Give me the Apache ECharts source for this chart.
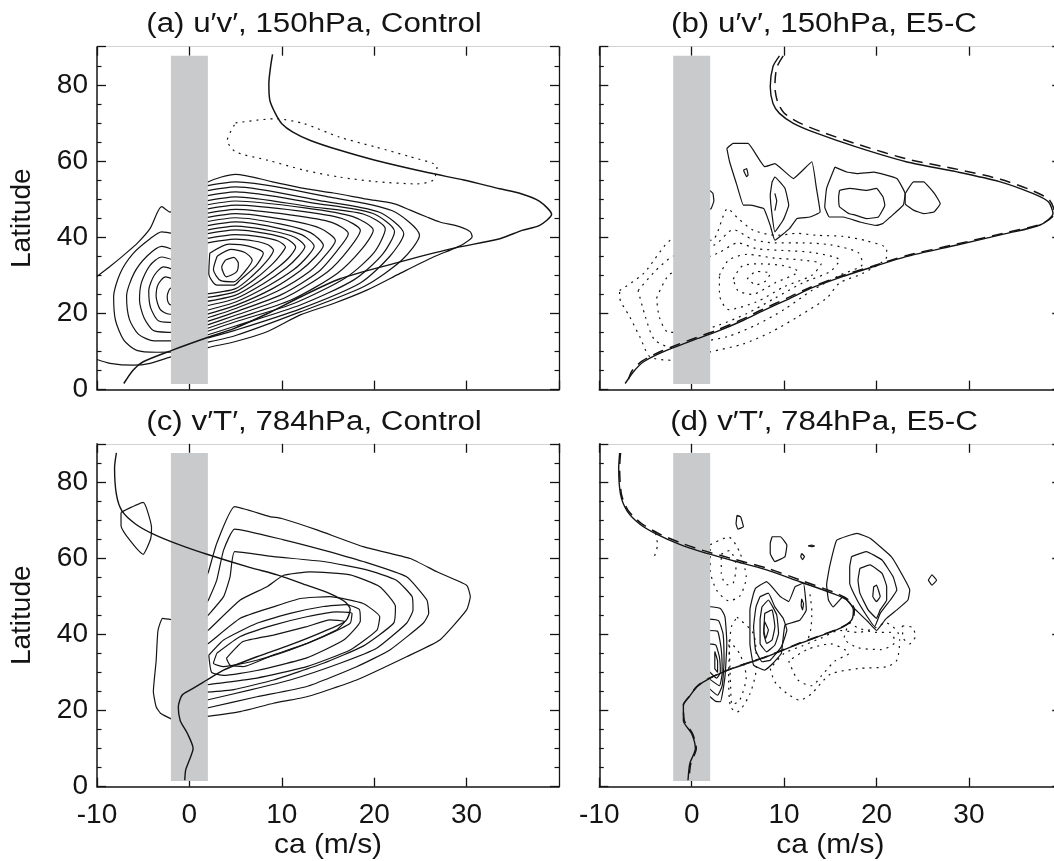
<!DOCTYPE html>
<html>
<head>
<meta charset="utf-8">
<script src="https://cdn.jsdelivr.net/npm/echarts@6/dist/echarts.min.js"></script>
<style>
  html, body { margin: 0; padding: 0; background: #fff; }
  #chart { width: 1054px; height: 861px; }
</style>
</head>
<body>
<div id="chart"></div>
<script>
// ---- shared ----
const xTicks = [-10, 0, 10, 20, 30];
const yTicks = [0, 20, 40, 60, 80];
const barBand = [-2, 1.5, 2, 87.6]; // grey band: ca from -2 to 2, lat 1.5..87.6

// ---- (a) u'v' 150hPa control ----
const jetA = [[9.0,88.0],[8.8,85.0],[8.6,80.4],[8.7,76.0],[9.3,72.5],[10.0,69.8],[11.2,67.6],[13.1,65.4],[16.3,62.8],[20.1,60.2],[25.9,56.9],[29.7,55.0],[33.6,52.7],[35.9,51.4],[37.9,49.4],[39.2,46.0],[37.9,43.1],[36.0,41.8],[33.6,39.6],[28.4,37.0],[22.0,33.0],[16.3,29.1],[12.0,24.3],[8.4,19.9],[4.8,16.0],[2.1,13.8],[-1.9,10.3],[-5.0,7.3],[-6.1,5.1],[-7.1,1.6]];
const negA = [[5.0,70.0],[9.3,71.1],[12.4,69.8],[16.2,66.3],[20.1,63.7],[23.9,61.1],[26.8,58.5],[26.4,55.0],[24.6,54.0],[20.1,54.6],[16.2,55.8],[12.4,57.6],[8.5,60.2],[5.0,62.4],[4.1,65.4]];
const outerA = [[-10,29.7],[-8.5,32.5],[-7.1,35.3],[-5.6,38.5],[-4.25,42.3],[-3.0,48.0],[-2.1,46.6],[0,50.5],[2.0,54.5],[5.0,56.5],[8.9,54.6],[12.4,52.8],[15.6,51.6],[19.2,50.0],[22.1,48.8],[23.9,47.1],[25.7,45.3],[27.1,44.0],[29.3,42.7],[30.4,41.4],[30.6,40.1],[29.7,38.3],[28.6,37.0],[26.4,34.8],[22.8,30.5],[19.2,26.1],[15.6,22.6],[12.0,19.6],[8.4,15.2],[4.8,12.5],[2.0,11.0],[0,9.5],[-2.0,8.6],[-4.25,6.9],[-6.1,6.4],[-8.6,6.9],[-10,7.9]];
const innerLoopsA = [
  [[3.9,34.0],[4.8,34.7],[5.3,33.1],[5.1,30.9],[4.0,29.6],[3.5,32.2]],
  [[3.0,35.0],[4.5,36.8],[6.0,36.0],[6.8,34.0],[6.0,31.0],[4.8,28.3],[3.4,28.6],[2.6,31.5]],
  [[2.2,35.8],[4.3,38.2],[6.5,37.6],[8.0,35.8],[7.2,32.5],[5.5,28.8],[4.8,27.4],[3.0,27.4],[2.1,30.5]]
];
const rightRingsA = [
  [[1.5,38.3],[5,39.5],[7.0,39.0],[8.5,38.0],[9.1,36.6],[8.3,33.5],[6.8,29.8],[5,26.5],[1.5,25.0]],
  [[1.5,39.5],[5,40.7],[7.7,40.1],[9.6,39.0],[10.4,37.4],[9.9,35.5],[9.0,33.0],[7.2,29.2],[5,25.7],[1.5,24.0]],
  [[1.5,40.7],[5,41.9],[8.2,41.0],[10.5,39.6],[11.5,37.4],[10.9,35.0],[9.8,32.5],[7.6,28.5],[5,24.8],[1.5,23.0]],
  [[1.5,41.7],[5,42.9],[8.8,41.7],[11.4,40.0],[12.5,37.5],[11.8,35.0],[10.5,32.0],[8.0,27.8],[5,23.9],[1.5,21.8]],
  [[1.5,42.8],[5,44.0],[9.2,42.6],[12.2,40.6],[13.5,37.6],[12.8,35.0],[11.3,31.5],[8.5,27.2],[5,23.0],[1.5,20.6]],
  [[1.5,43.9],[5,45.1],[9.8,43.5],[13.1,41.2],[14.5,37.8],[13.7,35.0],[12.0,31.2],[9.0,26.5],[5,22.1],[1.5,19.5]],
  [[1.5,45.0],[5,46.2],[10.4,44.6],[14.2,42.3],[15.8,39.1],[14.8,35.5],[13.0,31.0],[9.5,25.8],[5,21.3],[1.5,18.5]],
  [[1.5,46.1],[5,47.3],[11.1,45.8],[15.4,43.9],[17.2,40.9],[16.0,36.5],[14.0,31.0],[10.0,25.0],[5,20.4],[1.5,17.5]],
  [[1.5,47.2],[5,48.4],[11.8,46.9],[16.5,44.9],[18.5,41.8],[17.3,37.0],[15.0,31.0],[10.5,24.3],[5,19.5],[1.5,16.6]],
  [[1.5,48.3],[5,49.5],[12.5,47.7],[17.7,45.4],[19.9,41.8],[18.7,37.0],[16.0,30.5],[11.0,23.5],[5,18.6],[1.5,15.7]],
  [[1.5,49.4],[5,50.6],[13.1,48.0],[18.8,46.1],[21.2,42.2],[20.0,36.0],[17.0,29.5],[11.5,22.8],[5,17.8],[1.5,14.9]],
  [[1.5,50.7],[5,51.9],[13.6,48.9],[19.8,46.3],[22.2,41.5],[20.9,35.5],[17.8,28.8],[12.0,22.2],[5,16.7],[1.5,14.0]],
  [[1.5,52.0],[5,53.2],[14.1,49.6],[20.5,46.6],[23.2,40.9],[21.7,35.0],[18.5,28.0],[12.0,21.2],[5,15.6],[1.5,13.2]],
  [[1.5,53.3],[5,54.5],[15.0,50.6],[21.9,47.0],[24.9,40.5],[23.0,34.0],[19.0,27.2],[12.0,20.4],[5,14.2],[1.5,12.2]]
];
const leftRingsA = [
  [[-1.5,40.8],[-3.0,41.4],[-4.25,39.6],[-6.1,35.7],[-7.5,30.5],[-8.2,24.3],[-8.0,18.2],[-7.1,13.0],[-5.7,10.3],[-3.5,9.8],[-1.5,9.9]],
  [[-1.5,36.5],[-3.0,37.6],[-4.6,35.0],[-6.0,30.5],[-6.8,24.5],[-6.5,18.5],[-5.5,14.5],[-3.8,12.8],[-1.5,12.8]],
  [[-1.5,33.8],[-3.0,34.8],[-4.3,32.5],[-5.2,28.0],[-5.4,23.5],[-4.9,18.8],[-3.8,15.4],[-1.5,15.0]],
  [[-1.5,31.3],[-2.8,32.2],[-3.8,30.0],[-4.4,26.0],[-4.2,21.5],[-3.3,18.0],[-1.5,17.6]],
  [[-1.5,28.8],[-2.6,29.6],[-3.4,27.5],[-3.6,24.5],[-3.2,21.2],[-2.4,19.9],[-1.5,19.7]],
  [[-1.5,27.0],[-2.1,26.5],[-2.4,24.5],[-2.2,22.5],[-1.5,21.9]]
];

// ---- (b) u'v' 150hPa E5-C ----
const jetB = [[9.5,87.6],[8.8,84.8],[8.5,79.5],[8.8,75.1],[9.5,72.5],[11.0,69.9],[13.5,67.3],[17.8,63.7],[23.2,59.8],[28.6,57.2],[33.3,54.6],[36.9,51.5],[38.6,49.3],[39.1,46.2],[37.7,43.2],[34.1,41.0],[28.6,37.9],[23.2,34.9],[19.6,32.2],[16.4,29.7],[12.8,26.5],[10.6,23.9],[7.8,20.8],[5.6,18.2],[2.7,15.2],[0.2,13.0],[-3.1,9.9],[-5.2,7.3],[-6.3,4.7],[-7.2,1.6]];
const jetBdash = [[9.9,87.6],[9.2,84.5],[9.0,79.5],[9.3,75.5],[10.0,72.6],[11.5,70.2],[14.0,67.7],[18.2,64.2],[23.5,60.4],[28.8,57.8],[33.4,55.2],[37.0,52.1],[38.7,49.8],[39.3,46.3],[37.9,43.5],[34.2,41.3],[28.7,38.2],[23.3,35.2],[19.7,32.5],[16.4,30.0],[12.8,26.8],[10.5,24.2],[7.7,21.1],[5.5,18.5],[2.6,15.5],[0.1,13.3],[-3.2,10.2],[-5.3,7.6],[-6.5,4.8],[-7.0,1.4]];
const posLoopsB = [
  [[3.8,63.3],[4.5,64.6],[6.1,64.6],[7.9,58.5],[9.0,59.3],[11.0,55.4],[13.0,59.8],[13.5,52.8],[13.9,46.6],[12.8,45.3],[11.4,44.9],[10.6,42.3],[9.0,39.2],[8.5,43.1],[7.8,47.5],[6.3,48.4],[5.6,48.4],[4.9,53.6],[4.1,59.8]],
  [[8.7,54.5],[9.0,55.8],[10.1,52.8],[10.5,48.4],[9.9,44.5],[9.0,41.4],[8.7,45.8],[8.5,51.0]],
  [[5.6,57.6],[5.95,58.0],[6.1,56.3],[5.95,55.9]],
  [[15.5,58.4],[16.8,57.1],[17.9,56.7],[19.7,57.1],[22.2,55.4],[23.1,51.4],[22.9,48.4],[21.5,45.3],[20.7,43.6],[20.0,43.1],[18.2,44.0],[16.4,45.3],[14.9,45.3],[14.4,47.9],[14.6,52.8]],
  [[16.0,52.3],[17.1,52.8],[18.9,52.3],[20.0,52.8],[20.7,50.6],[20.9,48.4],[20.2,45.3],[18.9,44.9],[17.7,45.8],[17.0,46.2],[16.0,48.0],[15.9,50.6]],
  [[23.1,51.4],[24.0,54.5],[25.1,54.5],[26.3,51.4],[26.9,48.8],[26.2,46.6],[25.1,46.2],[24.0,47.1],[23.1,48.8]]
];
const posOpenB = [
  [[1.8,52.6],[2.3,51.5],[2.4,49.5],[2.1,47.5],[1.8,47.2]],
  [[9.0,51.5],[9.2,49.5],[9.0,47.0]]
];
const negLoopsB = [
  [[-7.8,26.0],[-5.2,30.5],[-2.2,39.4],[0,40.0],[2.2,39.2],[3.9,47.5],[5.0,45.0],[6.7,41.8],[9.2,40.5],[11.4,41.0],[13.5,40.5],[16.4,40.2],[19.0,39.0],[21.1,37.0],[21.1,34.9],[18.5,30.5],[16.0,28.0],[14.6,24.0],[11.4,19.0],[8.5,15.0],[5.6,12.0],[2.0,9.9],[-2.0,7.7],[-4.5,8.6],[-5.6,13.8],[-6.7,19.1],[-7.8,24.3]],
  [[-5.8,26.0],[-4.0,31.0],[-2.0,35.0],[2.5,38.0],[4.5,42.0],[6.5,39.5],[9.0,38.5],[12.0,38.5],[15.0,38.0],[18.0,36.0],[18.5,33.0],[16.0,30.0],[13.0,26.0],[10.0,21.0],[7.0,17.0],[4.0,14.0],[1.0,12.5],[-2.0,11.0],[-4.0,13.0],[-5.0,19.0]],
  [[-3.8,24.0],[-2.5,30.0],[0,33.0],[3.0,36.0],[5.0,38.5],[7.0,37.0],[10.0,36.5],[13.0,36.0],[16.0,34.0],[15.0,31.0],[12.0,28.0],[9.0,24.0],[6.0,20.0],[3.0,17.0],[0,15.0],[-2.5,15.0],[-3.5,19.0]],
  [[3.0,30.0],[4.0,34.0],[6.0,35.5],[9.0,34.5],[12.0,34.0],[14.0,33.0],[13.0,30.0],[10.0,27.0],[7.0,23.0],[4.0,21.0],[3.0,25.0]],
  [[4.5,29.0],[5.5,32.5],[7.5,33.0],[10.0,32.5],[11.5,31.0],[9.0,28.0],[6.5,25.0],[5.0,26.0]],
  [[6.0,29.0],[7.0,31.0],[8.5,30.5],[8.0,28.5],[7.0,27.5]]
];

// ---- (c) v'T' 784hPa control ----
const jetC = [[-7.9,87.6],[-8.1,83.7],[-7.9,76.7],[-7.3,72.4],[-5.8,68.9],[-3.9,66.3],[-1.2,63.6],[1.9,61.0],[6.6,57.5],[9.5,55.6],[12.7,52.9],[15.2,50.7],[16.8,48.6],[17.4,46.6],[16.9,43.5],[14.5,40.7],[10.9,37.2],[7.3,34.1],[3.7,30.6],[1.9,28.0],[0.1,25.4],[-0.8,24.0],[-1.2,20.9],[-1.0,17.4],[-0.2,13.9],[0.4,10.0],[0.0,7.0],[-0.4,4.4],[-0.5,1.7]];
const openRingsC = [
  [[1.8,55.0],[2.06,56.4],[2.96,63.9],[4.9,73.5],[8.7,70.9],[10.0,70.4],[13.8,67.4],[18.8,63.0],[23.9,59.9],[26.8,56.4],[30.0,52.9],[30.4,49.9],[30.0,46.4],[27.1,38.5],[23.5,34.1],[18.1,28.0],[12.7,23.6],[9.1,21.9],[5.5,19.7],[1.8,18.4]],
  [[1.8,48.0],[2.06,49.0],[2.96,54.2],[3.7,62.1],[4.9,67.6],[10.2,64.8],[14.5,62.1],[18.8,59.1],[23.5,55.1],[25.7,49.0],[25.9,45.5],[25.3,42.9],[21.7,35.9],[18.1,31.5],[12.7,26.3],[7.3,23.6],[1.8,20.6]],
  [[1.8,44.5],[2.06,45.1],[3.7,49.9],[4.4,55.1],[4.9,61.7],[9.1,60.4],[14.5,59.1],[19.2,56.9],[22.4,54.2],[24.1,49.9],[24.2,46.4],[23.5,42.9],[20.3,36.4],[16.3,32.4],[10.9,28.0],[6.6,25.4],[1.8,22.7]],
  [[1.8,40.8],[2.06,41.1],[5.5,49.0],[8.4,52.5],[10.2,55.5],[13.1,56.4],[17.4,55.6],[20.6,52.5],[22.3,47.3],[22.1,42.9],[18.8,36.9],[14.5,32.4],[9.1,28.0],[4.8,25.5],[1.8,24.8]],
  [[1.8,37.4],[2.06,37.6],[5.5,44.2],[9.1,47.2],[12.0,49.4],[15.2,49.9],[18.8,48.1],[20.6,44.6],[20.3,41.1],[17.4,35.9],[12.7,31.5],[7.3,28.5],[3.0,27.1],[1.8,26.7]],
  [[-1.8,43.8],[-2.9,44.2],[-3.4,41.0],[-3.6,33.0],[-3.9,25.0],[-3.6,21.0],[-3.1,19.2],[-1.8,17.6]]
];
const loopsC = [
  [[2.1,34.5],[3.7,38.5],[7.3,42.9],[10.9,45.5],[14.5,47.3],[17.0,47.8],[18.4,46.5],[18.5,43.5],[16.7,38.5],[12.7,33.8],[7.3,30.5],[3.7,29.2],[2.4,30.0]],
  [[2.96,35.0],[5.5,39.4],[9.1,42.4],[12.7,44.6],[15.9,45.9],[17.6,45.5],[17.4,42.9],[14.5,39.4],[10.9,35.9],[7.3,33.2],[3.7,31.5],[2.6,32.4]],
  [[4.0,33.7],[5.8,38.1],[9.1,39.8],[12.7,42.0],[15.2,43.8],[16.8,43.3],[15.9,41.1],[12.7,37.6],[9.1,34.6],[5.8,31.5],[4.4,31.9]],
  [[-7.4,72.0],[-5.0,74.6],[-4.1,68.0],[-4.2,65.0],[-5.0,61.0],[-7.4,68.5]]
];

// ---- (d) v'T' 784hPa E5-C ----
const jetD = [[-7.8,87.6],[-7.9,83.7],[-7.7,76.7],[-7.0,72.4],[-5.6,68.9],[-3.8,66.3],[-1.3,63.6],[1.0,61.7],[4.5,59.3],[8.1,56.9],[11.7,53.8],[15.3,50.7],[16.8,49.0],[17.5,46.4],[17.3,43.7],[16.1,41.6],[11.7,37.6],[8.1,34.1],[4.5,31.1],[2.0,28.5],[0.6,26.3],[-0.3,23.5],[-0.9,21.4],[-0.9,17.4],[0.0,13.9],[0.4,10.0],[-0.2,6.1],[-0.4,1.7]];
const jetDdash = [[-7.7,87.6],[-7.8,83.7],[-7.6,76.7],[-6.9,72.6],[-5.5,69.2],[-3.7,66.6],[-1.2,64.0],[1.1,62.1],[4.6,59.7],[8.2,57.3],[11.8,54.2],[15.4,51.0],[16.9,49.2],[17.6,46.5],[17.4,43.7],[16.1,41.7],[11.7,37.7],[8.1,34.2],[4.5,31.2],[2.0,28.6],[0.6,26.4],[-0.3,23.6],[-0.9,21.5],[-0.8,17.4],[0.1,13.9],[0.5,10.0],[-0.1,6.1],[-0.3,1.7]];
const openPosD = [
  [[1.8,47.3],[3.1,46.8],[3.6,44.6],[3.8,37.6],[3.6,28.9],[3.1,22.3],[2.6,22.4],[1.8,24.0]],
  [[1.8,44.0],[2.9,43.6],[3.4,40.0],[3.5,33.0],[3.3,26.5],[2.8,24.0],[1.8,26.0]],
  [[1.8,41.0],[2.8,40.8],[3.2,36.0],[3.3,30.0],[3.0,26.5],[1.8,28.5]],
  [[1.8,37.5],[2.6,37.2],[3.0,34.0],[3.1,30.0],[2.7,28.5],[1.8,30.5]]
];
const loopsPosD = [
  [[2.5,35.5],[2.8,33.0],[2.8,30.0],[2.5,31.0]],
  [[6.9,52.1],[8.1,53.8],[9.6,49.9],[10.5,48.6],[11.2,52.5],[12.1,53.4],[12.3,49.9],[12.4,46.4],[11.7,43.7],[10.1,42.4],[9.7,35.0],[8.8,32.4],[7.9,30.6],[6.7,31.9],[6.3,37.6],[6.3,46.4],[6.7,50.8]],
  [[7.4,49.9],[8.3,50.8],[9.0,47.2],[9.9,44.2],[10.3,41.1],[9.7,36.7],[8.5,33.2],[7.6,32.8],[6.9,35.9],[6.7,42.0],[6.96,47.2]],
  [[7.6,47.2],[8.3,49.0],[9.2,45.1],[9.4,40.3],[9.0,37.2],[8.1,35.4],[7.4,37.6],[7.4,43.8]],
  [[7.9,45.5],[8.7,46.4],[9.0,42.0],[8.7,38.5],[8.1,37.6],[7.8,40.3]],
  [[7.9,43.3],[8.3,41.1],[8.0,38.9],[7.8,41.1]],
  [[11.9,49.3],[12.1,48.0],[12.0,46.4],[11.85,47.5]],
  [[4.9,71.2],[5.3,70.8],[5.6,68.2],[5.0,67.6],[4.8,69.0]],
  [[8.7,65.6],[9.6,65.6],[10.3,63.4],[10.1,60.4],[9.0,59.1],[8.5,61.2],[8.5,63.9]],
  [[11.9,61.2],[12.2,60.4],[12.0,59.6],[11.8,60.4]],
  [[12.6,63.2],[13.0,63.4],[13.3,63.2],[13.0,63.0]],
  [[25.6,54.2],[26.0,55.6],[26.5,54.2],[26.0,52.9]],
  [[14.9,57.5],[15.7,64.7],[17.9,66.5],[19.3,65.2],[21.6,60.4],[22.9,55.1],[23.6,51.6],[23.4,49.0],[22.2,46.4],[21.0,44.0],[20.0,41.0],[19.0,43.5],[17.5,47.0],[16.4,49.9],[15.3,47.2],[14.8,49.0],[14.6,53.0]],
  [[17.3,60.4],[18.9,61.7],[20.6,59.5],[21.8,55.1],[22.2,51.6],[21.5,49.0],[20.4,45.5],[19.8,42.0],[18.9,45.0],[17.9,49.0],[17.1,53.4],[17.1,57.7]],
  [[18.2,57.3],[19.3,58.2],[20.6,56.0],[21.1,52.5],[21.1,49.0],[20.4,46.4],[20.0,44.2],[19.1,46.4],[18.2,50.8],[18.0,54.2]],
  [[19.7,52.5],[20.0,52.9],[20.4,49.9],[20.0,48.6],[19.6,49.9]]
];
const negLoopsD = [
  [[2.0,63.5],[4.0,65.5],[5.2,61.5],[5.9,55.0],[5.2,50.0],[4.0,48.8],[2.7,51.6],[2.0,57.0]],
  [[3.2,61.0],[4.1,62.0],[4.8,58.0],[4.5,53.5],[3.8,53.0],[3.2,56.0]],
  [[4.9,44.5],[6.7,40.1],[7.0,31.4],[6.3,24.4],[4.9,19.6],[4.2,21.0],[4.0,28.0],[4.1,37.0],[4.3,42.0]],
  [[4.0,38.4],[5.2,34.9],[5.9,28.8],[5.2,22.7],[4.4,21.5],[4.2,27.0],[4.1,34.0]],
  [[8.5,31.0],[9.0,27.5],[10.3,24.5],[11.7,22.7],[13.0,24.5],[15.0,29.5],[18.0,31.0],[21.1,31.5],[22.2,33.2],[22.5,38.5],[22.2,41.0],[21.0,43.0],[19.7,41.5],[18.0,40.5],[16.0,41.0],[14.0,39.0],[12.0,37.0],[10.0,35.0]],
  [[10.5,33.0],[11.5,28.0],[13.0,26.5],[14.0,29.0],[15.5,33.0],[17.0,35.0],[15.0,37.5],[12.5,36.0]],
  [[22.8,42.2],[23.9,41.8],[24.2,39.5],[23.6,37.5],[22.9,39.0]],
  [[17.0,43.0],[18.2,41.5],[20.0,40.5],[21.5,40.5],[22.0,38.0],[20.5,36.0],[18.0,36.5],[16.5,39.0]]
];
const negOpenD = [
  [[-3.9,66.5],[-3.7,63.5],[-4.1,60.0]],
  [[12.8,50.5],[13.0,46.0],[12.9,41.5],[12.5,38.0]]
];

// ---- layout ----
const FONT = '"Liberation Sans", Helvetica, Arial, sans-serif';
const INK = '#141414';
const panels = [
  { left: 97,    top: 46.7,  title: '(a) u′v′, 150hPa, Control', tx: 314, ty: 24.5,  xLab: false, yLab: true },
  { left: 599.3, top: 46.7,  title: '(b) u′v′, 150hPa, E5-C',    tx: 824, ty: 24.5,  xLab: false, yLab: false },
  { left: 97,    top: 443.8, title: '(c) v′T′, 784hPa, Control', tx: 314, ty: 422.5, xLab: true,  yLab: true },
  { left: 599.3, top: 443.8, title: '(d) v′T′, 784hPa, E5-C',    tx: 824, ty: 422.5, xLab: true,  yLab: false }
];
const W = 462, H = 342.9;

const grids = [], xAxes = [], yAxes = [], graphics = [];
panels.forEach((p, i) => {
  grids.push({ left: p.left, top: p.top, width: W, height: H, show: false, containLabel: false, outerBoundsMode: 'none' });
  xAxes.push({
    gridIndex: i, type: 'value', min: -10, max: 40, interval: 10, position: 'bottom',
    axisLine: { onZero: false, lineStyle: { color: INK, width: 1.5 } },
    axisTick: { inside: true, length: 9, lineStyle: { color: INK, width: 1.3 } },
    axisLabel: { show: p.xLab, fontSize: 28, fontFamily: FONT, color: INK, margin: 15, showMaxLabel: false },
    splitLine: { show: false }
  });
  xAxes.push({
    gridIndex: i, type: 'value', min: -10, max: 40, interval: 10, position: 'top',
    axisLine: { onZero: false, lineStyle: { color: '#d2d2d2', width: 1 } },
    axisTick: { inside: true, length: 9, lineStyle: { color: INK, width: 1.3 } },
    axisLabel: { show: false }, splitLine: { show: false }
  });
  yAxes.push({
    gridIndex: i, type: 'value', min: 0, max: 90, interval: 20, position: 'left',
    axisLine: { onZero: false, lineStyle: { color: INK, width: 1.5 } },
    axisTick: { inside: true, length: 9, lineStyle: { color: INK, width: 1.3 } },
    minorTick: { show: true, splitNumber: 4, length: 4.5, lineStyle: { color: INK, width: 1.2 } },
    axisLabel: { show: p.yLab, fontSize: 28, fontFamily: FONT, color: INK, margin: 9, showMaxLabel: false },
    splitLine: { show: false }
  });
  yAxes.push({
    gridIndex: i, type: 'value', min: 0, max: 90, interval: 20, position: 'right',
    axisLine: { onZero: false, lineStyle: { color: INK, width: 1.3 } },
    axisTick: { inside: true, length: 9, lineStyle: { color: INK, width: 1.3 } },
    minorTick: { show: true, splitNumber: 4, length: 4.5, lineStyle: { color: INK, width: 1.2 } },
    axisLabel: { show: false }, splitLine: { show: false }
  });
  graphics.push({
    type: 'text', x: p.tx, y: p.ty, scaleX: 1.16,
    style: { text: p.title, font: '27px ' + FONT, fill: INK, textAlign: 'center', textVerticalAlign: 'middle' }
  });
  if (p.yLab) {
    graphics.push({
      type: 'text', x: 22, y: p.top + H / 2, rotation: Math.PI / 2,
      style: { text: 'Latitude', font: '28px ' + FONT, fill: INK, textAlign: 'center', textVerticalAlign: 'middle' }
    });
  }
  if (p.xLab) {
    graphics.push({
      type: 'text', x: p.left + W / 2, y: 845, scaleX: 1.07,
      style: { text: 'ca (m/s)', font: '28px ' + FONT, fill: INK, textAlign: 'center', textVerticalAlign: 'middle' }
    });
  }
});

const series = [];
function addLines(gi, list, opts) {
  list.forEach(pts => {
    const data = opts.closed ? pts.concat([pts[0]]) : pts;
    series.push({
      type: 'line', xAxisIndex: gi * 2, yAxisIndex: gi * 2, data: data,
      symbol: 'none', smooth: opts.smooth !== undefined ? opts.smooth : 0.25,
      z: opts.z || 2, silent: true, animation: false,
      lineStyle: { color: INK, width: opts.width || 1.2, type: opts.type || 'solid' }
    });
  });
}
const DOT = [2, 5];
const DASH = [11, 7];

// (a)
addLines(0, [outerA], { closed: false });
addLines(0, innerLoopsA, { closed: true });
addLines(0, rightRingsA, { closed: false });
addLines(0, leftRingsA, { closed: false });
addLines(0, [negA], { closed: true, type: DOT });
addLines(0, [jetA], { z: 5, width: 1.5 });
// (b)
addLines(1, posLoopsB, { closed: true, smooth: 0.1 });
addLines(1, posOpenB, { closed: false, smooth: 0.1 });
addLines(1, negLoopsB, { closed: true, type: DOT });
addLines(1, [jetBdash], { z: 5, width: 1.5, type: DASH });
addLines(1, [jetB], { z: 5, width: 1.4 });
// (c)
addLines(2, openRingsC, { closed: false, smooth: 0.15 });
addLines(2, loopsC, { closed: true, smooth: 0.15 });
addLines(2, [jetC], { z: 5, width: 1.4 });
// (d)
addLines(3, openPosD, { closed: false, smooth: 0.15 });
addLines(3, loopsPosD, { closed: true, smooth: 0.1 });
addLines(3, negLoopsD, { closed: true, type: DOT });
addLines(3, negOpenD, { closed: false, type: DOT });
addLines(3, [jetDdash], { z: 5, width: 1.5, type: DASH });
addLines(3, [jetD], { z: 5, width: 1.4 });

// grey band over the contours, under the jet profile
panels.forEach((p, gi) => {
  series.push({
    type: 'custom', xAxisIndex: gi * 2, yAxisIndex: gi * 2, z: 4, silent: true, animation: false,
    data: [barBand],
    encode: { x: [0, 2], y: [1, 3] },
    renderItem: function (params, api) {
      const p0 = api.coord([api.value(0), api.value(1)]);
      const p1 = api.coord([api.value(2), api.value(3)]);
      return {
        type: 'rect',
        shape: { x: p0[0], y: p1[1], width: p1[0] - p0[0], height: p0[1] - p1[1] },
        style: { fill: '#c9cacc' }
      };
    }
  });
});

const chart = echarts.init(document.getElementById('chart'), null, { renderer: 'canvas' });
chart.setOption({
  animation: false,
  backgroundColor: '#fff',
  grid: grids,
  xAxis: xAxes,
  yAxis: yAxes,
  graphic: graphics,
  series: series
});
</script>
</body>
</html>
